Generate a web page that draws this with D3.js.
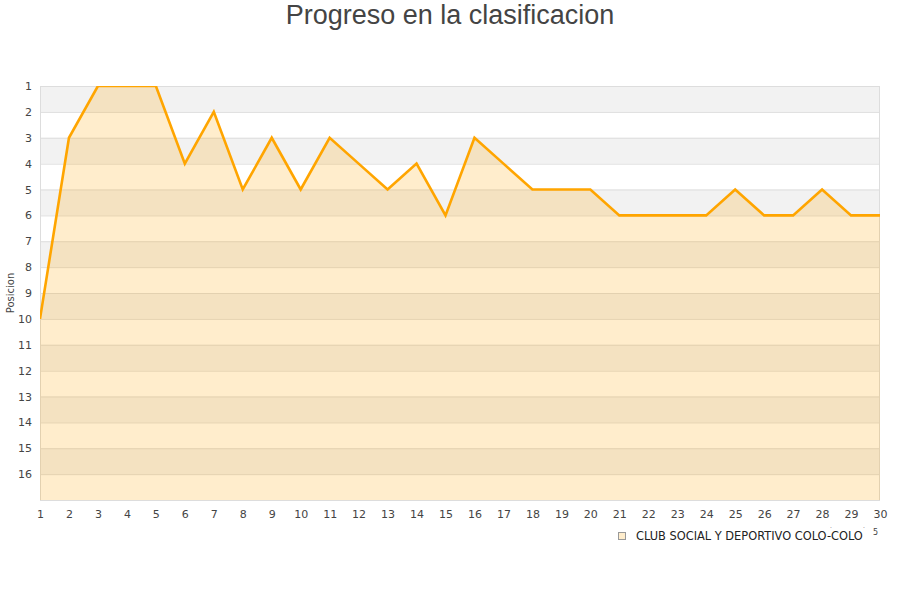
<!DOCTYPE html>
<html>
<head>
<meta charset="utf-8">
<script src="https://cdn.jsdelivr.net/npm/d3@7"></script>
<style>
body{margin:0;background:#fff;}
svg text{font-family:"DejaVu Sans",sans-serif;}
</style>
</head>
<body>
<div id="chart_div"></div>
<script>
////////////////////////////////////////

var jornadas = d3.range(1,31);
var posiciones = [10,3,1,1,1,4,2,5,3,5,3,4,5,4,6,3,4,5,5,5,6,6,6,6,5,6,6,5,6,6];
var rankTicks = d3.range(1,17);
var serieNombre = 'CLUB SOCIAL Y DEPORTIVO COLO-COLO';
var tituloTexto = 'Progreso en la clasificacion';
var ejeYTexto = 'Posicion';

////////////////////////////////////////

var w = 900, h = 600;
var plotLeft = 40, plotRight = 880, plotTop = 86, plotBottom = 500;

var vis = d3.select('#chart_div')
	.append('svg')
	.attr('width',w)
	.attr('height',h);

var x = d3.scaleLinear().domain([1,30]).range([plotLeft,plotRight]);
var y = d3.scaleLinear().domain([1,17]).range([plotTop,plotBottom]);

vis.append('defs').append('clipPath')
	.attr('id','plotClip')
	.append('rect')
	.attr('x',plotLeft)
	.attr('y',plotTop)
	.attr('width',plotRight-plotLeft)
	.attr('height',plotBottom-plotTop);

// alternating bands
vis.selectAll('rect.band')
	.data(d3.range(1,17))
	.enter()
		.append('rect')
		.attr('class','band')
		.attr('x',plotLeft)
		.attr('y',function(d){ return y(d); })
		.attr('width',plotRight-plotLeft)
		.attr('height',function(d){ return y(d+1)-y(d); })
		.attr('fill',function(d){ return d%2===1 ? '#f2f2f2' : '#ffffff'; });

// grid lines
vis.selectAll('line.grid')
	.data(rankTicks)
	.enter()
		.append('line')
		.attr('class','grid')
		.attr('x1',plotLeft)
		.attr('x2',plotRight)
		.attr('y1',function(d){ return y(d)+0.5; })
		.attr('y2',function(d){ return y(d)+0.5; })
		.attr('stroke','#dddddd')
		.attr('stroke-width',1);

// frame
vis.append('rect')
	.attr('x',plotLeft+0.5)
	.attr('y',plotTop+0.5)
	.attr('width',plotRight-plotLeft-1)
	.attr('height',plotBottom-plotTop)
	.attr('fill','none')
	.attr('stroke','#dddddd');

var pts = jornadas.map(function(j,i){ return {j:j,p:posiciones[i]}; });

var plot = vis.append('g').attr('clip-path','url(#plotClip)');

plot.append('path')
	.datum(pts)
	.attr('d',d3.area()
		.x(function(d){ return x(d.j); })
		.y0(plotBottom)
		.y1(function(d){ return y(d.p); }))
	.attr('fill','orange')
	.attr('fill-opacity',0.2);

plot.append('path')
	.datum(pts)
	.attr('d',d3.line()
		.x(function(d){ return x(d.j); })
		.y(function(d){ return y(d.p); }))
	.attr('fill','none')
	.attr('stroke','#ffa500')
	.attr('stroke-width',2.6)
	.attr('stroke-linejoin','miter');

////////////////////////////////////////

var yAxis = vis.append('g')
	.attr('transform','translate('+(plotLeft-8)+',0)')
	.call(d3.axisLeft(y).tickValues(rankTicks).tickSize(0).tickPadding(0));
yAxis.select('.domain').remove();
yAxis.selectAll('text')
	.attr('font-size',11)
	.attr('fill','#444')
	.attr('font-family','DejaVu Sans');

var xAxis = vis.append('g')
	.attr('transform','translate(0,'+(plotBottom+10)+')')
	.call(d3.axisBottom(x).tickValues(jornadas).tickFormat(d3.format('d')).tickSize(0).tickPadding(0));
xAxis.select('.domain').remove();
xAxis.selectAll('text')
	.attr('font-size',11)
	.attr('fill','#444')
	.attr('font-family','DejaVu Sans');

////////////////////////////////////////

vis.append('text')
	.attr('x',450)
	.attr('y',24)
	.attr('text-anchor','middle')
	.attr('font-size',27)
	.attr('fill','#444')
	.style('font-family','"Liberation Sans",Arial,sans-serif')
	.text(tituloTexto);

vis.append('text')
	.attr('transform','translate(14,293) rotate(-90)')
	.attr('text-anchor','middle')
	.attr('font-size',10)
	.attr('fill','#444')
	.text(ejeYTexto);

vis.append('rect')
	.attr('x',618.5)
	.attr('y',532.5)
	.attr('width',7)
	.attr('height',7)
	.attr('fill','#ffedcc')
	.attr('stroke','#999')
	.attr('stroke-width',1);

vis.append('text')
	.attr('x',636)
	.attr('y',540)
	.attr('font-size',11.4)
	.attr('fill','#222')
	.text(serieNombre);

vis.append('text')
	.attr('x',873)
	.attr('y',535)
	.attr('font-size',8)
	.attr('fill','#444')
	.text('5');

vis.append('text')
	.attr('x',830)
	.attr('y',528)
	.attr('font-size',6)
	.attr('fill','#666')
	.text('.');

vis.append('text')
	.attr('x',863)
	.attr('y',528)
	.attr('font-size',6)
	.attr('fill','#666')
	.text('.');

////////////////////////////////////////
</script>
</body>
</html>
